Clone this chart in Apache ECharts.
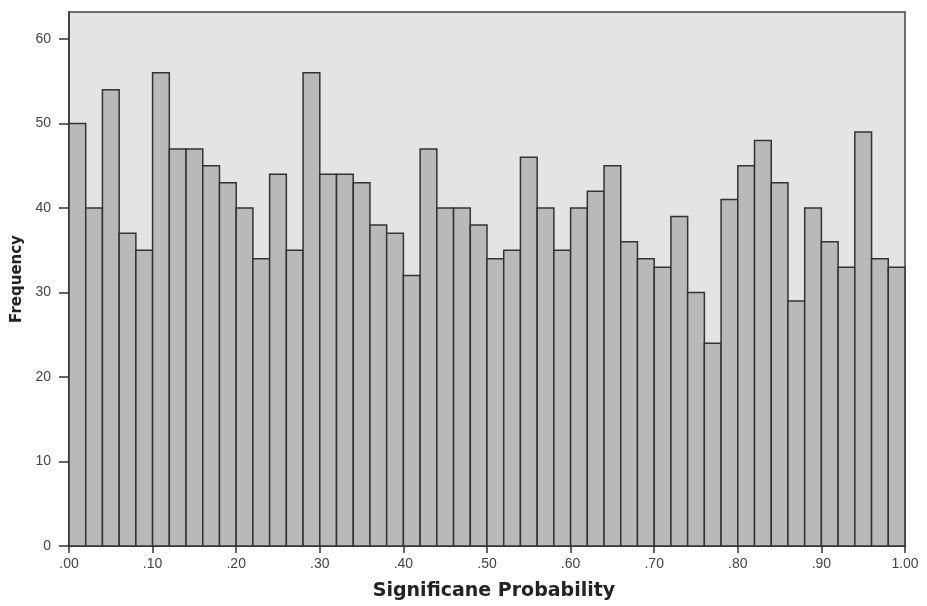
<!DOCTYPE html>
<html>
  <head>
    <meta charset="UTF-8" />
    <title>Significance probability histogram</title>
    <style>
      html, body { margin: 0; padding: 0; background: #fff; }
      #main { width: 927px; height: 606px; }
    </style>
  </head>
  <body>
    <div id="main"></div>
    <script src="https://cdn.jsdelivr.net/npm/echarts@6/dist/echarts.min.js"></script>
    <script>
      // histogram counts, 50 bins of width .02 from .00 to 1.00
      const binWidth = 0.02
      const counts = [
        50, 40, 54, 37, 35, 56, 47, 47, 45, 43,
        40, 34, 44, 35, 56, 44, 44, 43, 38, 37,
        32, 47, 40, 40, 38, 34, 35, 46, 40, 35,
        40, 42, 45, 36, 34, 33, 39, 30, 24, 41,
        45, 48, 43, 29, 40, 36, 33, 49, 34, 33
      ]
      const xTicks = [0, 0.1, 0.2, 0.3, 0.4, 0.5, 0.6, 0.7, 0.8, 0.9, 1]
      const yTicks = [0, 10, 20, 30, 40, 50, 60]

      // [binStart, binEnd, count]
      let bins = counts.map((c, i) => [i * binWidth, (i + 1) * binWidth, c])

      let fmtX = function (v) {
        let s = v.toFixed(2)
        return s.startsWith('0') ? s.slice(1) : s
      }

      let chart = echarts.init(document.getElementById('main'))
      chart.setOption({
        animation: false,
        textStyle: { fontFamily: 'Liberation Sans, Arial, sans-serif' },
        grid: {
          left: 69, right: 22, top: 12, bottom: 60,
          show: true,
          backgroundColor: '#e4e4e4',
          borderColor: '#444',
          borderWidth: 1.5
        },
        xAxis: {
          type: 'value',
          min: 0, max: 1, interval: 0.1,
          name: 'Significane Probability',
          nameLocation: 'middle',
          nameGap: 36,
          nameTextStyle: { fontSize: 19, fontWeight: 'bold', color: '#222', fontFamily: 'DejaVu Sans', padding: [0, 0, 0, 14] },
          axisLine: { lineStyle: { color: '#333', width: 1.5 } },
          axisTick: { show: true, length: 7, lineStyle: { color: '#333', width: 1.5 }, customValues: xTicks },
          axisLabel: { color: '#444', fontSize: 14, margin: 11, formatter: fmtX, customValues: xTicks },
          splitLine: { show: false }
        },
        yAxis: {
          type: 'value',
          min: 0, max: 63.2,
          name: 'Frequency',
          nameLocation: 'middle',
          nameGap: 39,
          nameTextStyle: { fontSize: 15, fontWeight: 'bold', color: '#222', fontFamily: 'DejaVu Sans' },
          axisLine: { show: true, lineStyle: { color: '#333', width: 1.5 } },
          axisTick: { show: true, length: 10, lineStyle: { color: '#333', width: 1.5 }, customValues: yTicks },
          axisLabel: { color: '#444', fontSize: 14, margin: 18, customValues: yTicks },
          splitLine: { show: false }
        },
        series: [
          {
            type: 'custom',
            data: bins,
            renderItem: function (params, api) {
              let p0 = api.coord([api.value(0), api.value(2)])
              let p1 = api.coord([api.value(1), 0])
              return {
                type: 'rect',
                shape: { x: p0[0], y: p0[1], width: p1[0] - p0[0], height: p1[1] - p0[1] },
                style: { fill: '#b9b9b9', stroke: '#333', lineWidth: 1.5 }
              }
            }
          }
        ]
      })
    </script>
  </body>
</html>
